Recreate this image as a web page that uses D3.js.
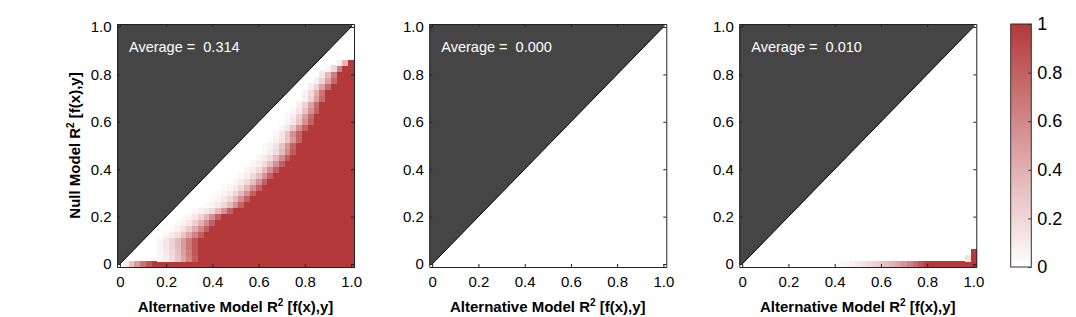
<!DOCTYPE html>
<html>
<head>
<meta charset="utf-8">
<script src="https://cdn.jsdelivr.net/npm/d3@7"></script>
<style>
body { margin: 0; background: #fff; }
text { font-family: "Liberation Sans", Arial, sans-serif; }
</style>
</head>
<body>
<div id="chart"></div>
<script>
// tick values
var xTicks = [0, 0.2, 0.4, 0.6, 0.8, 1.0];
var yTicks = [0, 0.2, 0.4, 0.6, 0.8, 1.0];
var cbTicks = [0, 0.2, 0.4, 0.6, 0.8, 1];
var averages = ["0.314", "0.000", "0.010"];
var gridN = 41; // cells per side, step 0.025

// heat rows: [row index, first non-zero column, partial values]; columns after the partial values are 1
var rows1 = [
	[0, 1, [0.1, 0.3, 0.5, 0.7, 0.85]],
	[1, 7, [0.04, 0.1, 0.18, 0.3, 0.45, 0.62, 0.82]],
	[2, 7, [0.05, 0.11, 0.2, 0.32, 0.47, 0.65, 0.85]],
	[3, 7, [0.05, 0.12, 0.22, 0.34, 0.5, 0.68, 0.86]],
	[4, 7, [0.05, 0.12, 0.22, 0.34, 0.5, 0.68, 0.86]],
	[5, 8, [0.04, 0.1, 0.18, 0.3, 0.45, 0.62, 0.82]],
	[6, 9, [0.03, 0.08, 0.15, 0.26, 0.42, 0.6, 0.8]],
	[7, 10, [0.03, 0.07, 0.13, 0.24, 0.4, 0.58, 0.8]],
	[8, 11, [0.03, 0.06, 0.12, 0.22, 0.36, 0.56, 0.8]],
	[9, 13, [0.03, 0.06, 0.12, 0.2, 0.35, 0.55, 0.8]],
	[10, 15, [0.03, 0.06, 0.11, 0.2, 0.35, 0.55, 0.8]],
	[11, 16, [0.03, 0.06, 0.11, 0.2, 0.35, 0.55, 0.8]],
	[12, 17, [0.03, 0.06, 0.11, 0.2, 0.36, 0.56, 0.8]],
	[13, 18, [0.03, 0.06, 0.11, 0.2, 0.36, 0.56, 0.8]],
	[14, 20, [0.04, 0.09, 0.18, 0.33, 0.55, 0.8]],
	[15, 21, [0.04, 0.09, 0.18, 0.33, 0.55, 0.8]],
	[16, 22, [0.04, 0.09, 0.18, 0.34, 0.56, 0.8]],
	[17, 23, [0.04, 0.09, 0.18, 0.34, 0.56, 0.8]],
	[18, 24, [0.04, 0.09, 0.18, 0.35, 0.57, 0.82]],
	[19, 25, [0.04, 0.09, 0.18, 0.35, 0.57, 0.82]],
	[20, 25, [0.03, 0.07, 0.15, 0.3, 0.52, 0.78]],
	[21, 26, [0.03, 0.07, 0.15, 0.3, 0.52, 0.78]],
	[22, 27, [0.05, 0.13, 0.3, 0.55, 0.8]],
	[23, 28, [0.05, 0.13, 0.3, 0.55, 0.8]],
	[24, 29, [0.05, 0.13, 0.3, 0.55, 0.8]],
	[25, 29, [0.04, 0.1, 0.25, 0.48, 0.75]],
	[26, 30, [0.05, 0.13, 0.3, 0.55, 0.8]],
	[27, 31, [0.08, 0.22, 0.47, 0.75]],
	[28, 32, [0.08, 0.22, 0.47, 0.75]],
	[29, 32, [0.06, 0.18, 0.4, 0.7]],
	[30, 33, [0.08, 0.22, 0.47, 0.75]],
	[31, 34, [0.08, 0.22, 0.47, 0.75]],
	[32, 35, [0.12, 0.35, 0.65]],
	[33, 36, [0.05, 0.2, 0.65]],
	[34, 38, [0.08, 0.35]]
];
var rows2 = [];
var rows3 = [
	[0, 17, [0.03, 0.05, 0.08, 0.11, 0.15, 0.19, 0.23, 0.28, 0.33, 0.39, 0.46, 0.54, 0.63, 0.74, 0.87]],
	[1, 39, [0.15]],
	[2, 40, []]
];
var panelRows = [rows1, rows2, rows3];

var width = 1076, height = 317;
var panelLeft = [117, 429.3, 739.3];
var panelW = 237, axTop = 24, axBottom = 267;
var half = 0.5 / (gridN - 1);
var dark = "#454545";
var red = "#b3393a";
var color = d3.scaleLinear().domain([0, 1]).range(["#ffffff", red]);

var svg = d3.select("#chart").append("svg")
	.attr("width", width)
	.attr("height", height);

function fmt(d) {
	return d === 0 ? "0" : d3.format(".1f")(d);
}

function cellsFor(rows) {
	var out = [];
	rows.forEach(function (r) {
		var j = r[0], s = r[1], v = r[2];
		for (var i = s; i < gridN; i++) {
			var val = (i - s < v.length) ? v[i - s] : 1;
			if (val > 0) out.push({x: i / (gridN - 1), y: j / (gridN - 1), v: val});
		}
	});
	return out;
}

function drawPanel(p) {
	var L = panelLeft[p];
	var x = d3.scaleLinear().domain([-half, 1 + half]).range([L, L + panelW]);
	var y = d3.scaleLinear().domain([-half, 1 + half]).range([axBottom, axTop]);
	var g = svg.append("g");

	g.append("rect")
		.attr("x", L).attr("y", axTop)
		.attr("width", panelW).attr("height", axBottom - axTop)
		.attr("fill", "#fff");

	// heat cells
	g.append("g")
		.attr("shape-rendering", "crispEdges")
		.selectAll("rect")
		.data(cellsFor(panelRows[p]))
		.join("rect")
		.attr("x", function (d) { return x(d.x - half); })
		.attr("y", function (d) { return y(d.y + half); })
		.attr("width", function (d) { return x(d.x + half) - x(d.x - half) + 0.6; })
		.attr("height", function (d) { return y(d.y - half) - y(d.y + half) + 0.6; })
		.attr("fill", function (d) { return color(d.v); });

	// region above the diagonal
	var poly = [[-half, 0], [0, 0], [1, 1], [1, 1 + half], [-half, 1 + half]];
	g.append("path")
		.attr("d", d3.line().x(function (d) { return x(d[0]); }).y(function (d) { return y(d[1]); })(poly) + "Z")
		.attr("fill", dark);

	g.append("line")
		.attr("x1", x(0)).attr("y1", y(0))
		.attr("x2", x(1)).attr("y2", y(1))
		.attr("stroke", "#000")
		.attr("stroke-width", 1);

	// axes, ticks inside
	var ax = g.append("g").attr("transform", "translate(0," + axBottom + ")")
		.call(d3.axisBottom(x).tickValues(xTicks).tickFormat(fmt).tickSizeInner(-3).tickSizeOuter(0).tickPadding(9));
	var ay = g.append("g").attr("transform", "translate(" + L + ",0)")
		.call(d3.axisLeft(y).tickValues(yTicks).tickFormat(fmt).tickSizeInner(-3).tickSizeOuter(0).tickPadding(5.5));
	var at = g.append("g").attr("transform", "translate(0," + axTop + ")")
		.call(d3.axisTop(x).tickValues(xTicks).tickFormat("").tickSizeInner(-3).tickSizeOuter(0));
	var ar = g.append("g").attr("transform", "translate(" + (L + panelW) + ",0)")
		.call(d3.axisRight(y).tickValues(yTicks).tickFormat("").tickSizeInner(-3).tickSizeOuter(0));
	[ax, ay, at, ar].forEach(function (a) {
		a.selectAll("path").attr("stroke", "#222");
		a.selectAll("line").attr("stroke", "#222");
		a.selectAll("text").style("font-size", "15px").attr("fill", "#000");
	});

	g.append("text")
		.attr("x", L + 12).attr("y", axTop + 28)
		.attr("fill", "#fff")
		.style("font-size", "14.5px")
		.style("white-space", "pre")
		.text("Average =  " + averages[p]);

	var xl = g.append("text")
		.attr("x", L + panelW / 2).attr("y", 312)
		.attr("text-anchor", "middle")
		.style("font-size", "15px").style("font-weight", "bold");
	xl.append("tspan").text("Alternative Model R");
	xl.append("tspan").attr("dy", -6).style("font-size", "10px").text("2");
	xl.append("tspan").attr("dy", 6).text(" [f(x),y]");

	if (p === 0) {
		var yl = g.append("text")
			.attr("transform", "translate(80," + ((axTop + axBottom) / 2) + ") rotate(-90)")
			.attr("text-anchor", "middle")
			.style("font-size", "15px").style("font-weight", "bold");
		yl.append("tspan").text("Null Model R");
		yl.append("tspan").attr("dy", -6).style("font-size", "10px").text("2");
		yl.append("tspan").attr("dy", 6).text(" [f(x),y]");
	}
}

for (var p = 0; p < 3; p++) drawPanel(p);

// colorbar
var cbX = 1010.7, cbW = 20.6;
var cbY = d3.scaleLinear().domain([0, 1]).range([axBottom, axTop]);
var grad = svg.append("defs").append("linearGradient")
	.attr("id", "cbGrad")
	.attr("x1", 0).attr("y1", 1).attr("x2", 0).attr("y2", 0);
grad.selectAll("stop")
	.data(cbTicks)
	.join("stop")
	.attr("offset", function (d) { return d; })
	.attr("stop-color", function (d) { return color(d); });

svg.append("rect")
	.attr("x", cbX).attr("y", axTop)
	.attr("width", cbW).attr("height", axBottom - axTop)
	.attr("fill", "url(#cbGrad)")
	.attr("stroke", "#333")
	.attr("stroke-width", 1);

var cbAxis = svg.append("g").attr("transform", "translate(" + (cbX + cbW) + ",0)")
	.call(d3.axisRight(cbY).tickValues(cbTicks)
		.tickFormat(function (d) { return (d === 0 || d === 1) ? String(d) : d3.format(".1f")(d); })
		.tickSizeInner(-3).tickSizeOuter(0).tickPadding(6));
cbAxis.select("path").remove();
cbAxis.selectAll("line").attr("stroke", "#333");
cbAxis.selectAll("text").style("font-size", "18px").attr("fill", "#000");
</script>
</body>
</html>
